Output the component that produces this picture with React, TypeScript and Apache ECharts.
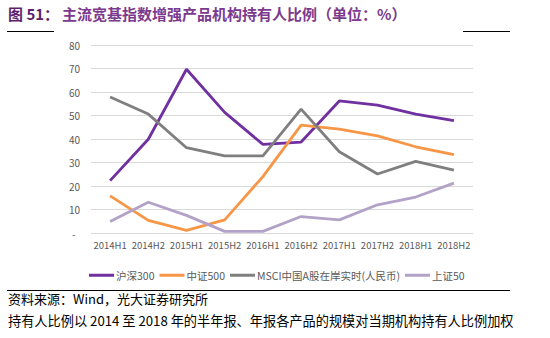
import React, { useEffect, useRef } from "react";
import * as echarts from "echarts";

const categories = ["2014H1", "2014H2", "2015H1", "2015H2", "2016H1", "2016H2", "2017H1", "2017H2", "2018H1", "2018H2"];
const hs300 = [22.3, 39.9, 69.7, 51.3, 37.7, 38.7, 56.2, 54.4, 50.6, 47.8];
const zz500 = [15.8, 5.4, 1.1, 5.6, 24.0, 45.9, 44.2, 41.3, 36.7, 33.3];
const msci = [57.9, 50.6, 36.3, 32.8, 32.8, 52.7, 34.6, 25.1, 30.5, 26.8];
const sz50 = [4.9, 13.1, 7.5, 0.7, 0.7, 7.0, 5.6, 12.0, 15.3, 21.2];
const seriesNames = ["沪深300", "中证500", "MSCI中国A股在岸实时(人民币)", "上证50"];
const colors = ["#7030A0", "#F79646", "#7F7F7F", "#B3A2C7"];

const FONT = "'Noto Sans CJK SC', 'Noto Sans', sans-serif";

export default function App() {
  const ref = useRef<HTMLDivElement>(null);
  useEffect(() => {
    if (!ref.current) return;
    const chart = echarts.init(ref.current, undefined, { renderer: "svg" });
    const datasets = [hs300, zz500, msci, sz50];
    chart.setOption({
      animation: false,
      backgroundColor: "#ffffff",
      grid: { left: 91, right: 77, top: 45, bottom: 105, containLabel: false },
      legend: {
        left: 84,
        top: 265,
        itemWidth: 25,
        itemHeight: 3,
        itemGap: 5,
        icon: "rect",
        textStyle: { color: "#595959", fontSize: 10.5, fontFamily: FONT, padding: [0, 0, 0, -3] },
        data: seriesNames,
      },
      xAxis: {
        type: "category",
        data: categories,
        boundaryGap: true,
        axisLine: { show: false },
        axisTick: { show: false },
        axisLabel: { color: "#595959", fontSize: 9.5, fontFamily: FONT, margin: 7, interval: 0 },
      },
      yAxis: {
        type: "value",
        min: 0,
        max: 80,
        interval: 10,
        axisLine: { show: false },
        axisTick: { show: false },
        splitLine: { lineStyle: { color: "#D9D9D9", width: 1 } },
        axisLabel: {
          color: "#595959",
          fontSize: 10,
          fontFamily: FONT,
          margin: 11,
          formatter: (v: number) => (v === 0 ? "-  " : String(v)),
        },
      },
      series: datasets.map((d, i) => ({
        name: seriesNames[i],
        type: "line",
        data: d,
        symbol: "none",
        color: colors[i],
        lineStyle: { width: 2.8, color: colors[i] },
      })),
      graphic: [
        {
          type: "text",
          left: 8,
          top: 6,
          style: {
            text: "图 51：",
            font: "bold 15px 'Noto Sans CJK SC', sans-serif",
            fill: "#5E1F6E",
          },
        },
        {
          type: "text",
          left: 62,
          top: 6,
          style: {
            text: "主流宽基指数增强产品机构持有人比例（单位：%）",
            font: "bold 15px 'Noto Sans CJK SC', sans-serif",
            fill: "#7B3A8E",
          },
        },
        { type: "line", shape: { x1: 7, y1: 31.5, x2: 54, y2: 31.5 }, style: { stroke: "#000", lineWidth: 1.2 } },
        { type: "line", shape: { x1: 463, y1: 31.5, x2: 510, y2: 31.5 }, style: { stroke: "#000", lineWidth: 1.2 } },
        { type: "line", shape: { x1: 7, y1: 290.5, x2: 510, y2: 290.5 }, style: { stroke: "#000", lineWidth: 1.2 } },
        {
          type: "text",
          left: 8,
          top: 292,
          style: {
            text: "资料来源：Wind，光大证券研究所",
            font: "13px 'Noto Sans CJK SC', sans-serif",
            fill: "#000",
          },
        },
        {
          type: "text",
          left: 8,
          top: 314,
          style: {
            text: "持有人比例以 2014 至 2018 年的半年报、年报各产品的规模对当期机构持有人比例加权",
            font: "13.2px 'Noto Sans CJK SC', sans-serif",
            fill: "#000",
          },
        },
      ],
    });
    return () => chart.dispose();
  }, []);
  return <div ref={ref} style={{ width: 550, height: 338, position: "absolute", left: 0, top: 0 }} />;
}
